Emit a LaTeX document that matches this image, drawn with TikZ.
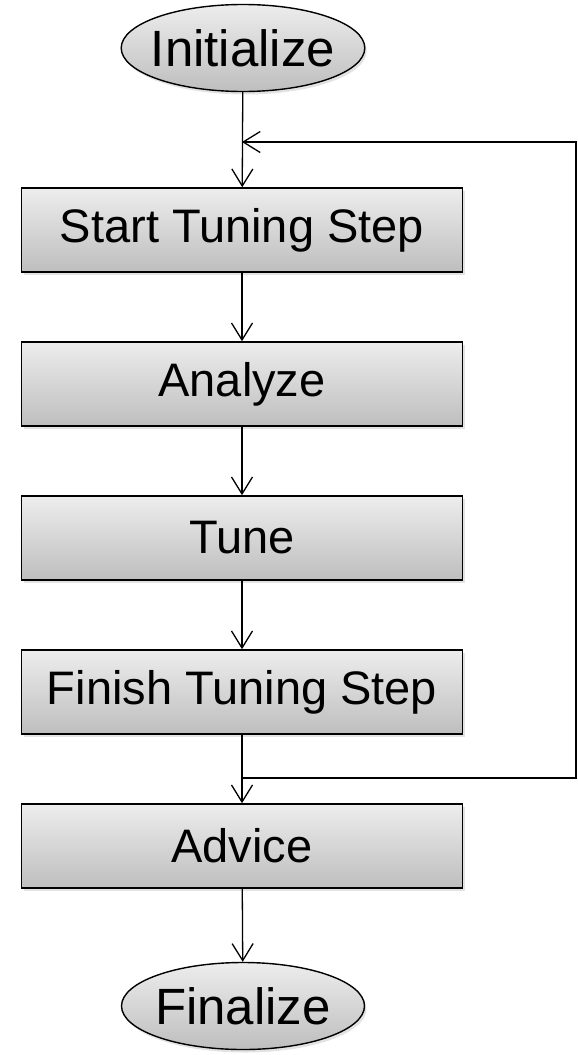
\documentclass[tikz,border=0pt]{standalone}
\usepackage{fontspec}
\setmainfont{Liberation Sans}
\usetikzlibrary{shapes.geometric,arrows.meta,shadows}
\definecolor{fillTop}{HTML}{EDEDED}
\definecolor{fillBot}{HTML}{BEBEBE}
\tikzset{
  procbox/.style={draw=black, line width=1.6pt, rectangle,
    top color=fillTop, bottom color=fillBot,
    minimum width=441pt, minimum height=84pt, inner sep=0pt,
    font=\fontsize{47pt}{52pt}\selectfont,
    drop shadow={opacity=0.22, shadow xshift=2pt, shadow yshift=-3pt}},
  terminal/.style={draw=black, line width=1.4pt, ellipse,
    top color=fillTop, bottom color=fillBot,
    minimum width=243pt, minimum height=87pt, inner xsep=-6pt, inner ysep=0pt,
    font=\fontsize{51pt}{56pt}\selectfont,
    drop shadow={opacity=0.22, shadow xshift=2pt, shadow yshift=-3pt}},
  arr/.style={line width=1.3pt, -{Straight Barb[length=17pt, width=21pt, line width=1.3pt]}},
  link/.style={line width=1.3pt}
}
\begin{document}
\begin{tikzpicture}[x=1pt, y=1pt]
  \useasboundingbox (0,0) rectangle (578,-1055);

  % start / end terminals
  \node[terminal] (init) at (243,-48) {Initialize};
  \node[terminal] (final) at (243,-1006) {Finalize};

  % tuning loop steps
  \node[procbox] (start)  at (242,-230) {Start Tuning Step};
  \node[procbox] (analyze) at (242,-384) {Analyze};
  \node[procbox] (tune)   at (242,-538) {Tune};
  \node[procbox] (finish) at (242,-692) {Finish Tuning Step};
  \node[procbox] (advice) at (242,-846) {Advice};

  % loop-back route points
  \coordinate (split) at (242,-778);
  \coordinate (rbot)  at (576,-778);
  \coordinate (rtop)  at (576,-142);
  \coordinate (join)  at (242,-142);

  % main flow
  \draw[arr] (init) -- (start);
  \draw[arr] (start) -- (analyze);
  \draw[arr] (analyze) -- (tune);
  \draw[arr] (tune) -- (finish);
  \draw[arr] (finish) -- (advice);
  \draw[arr] (advice) -- (final);

  % repeat the tuning step
  \draw[arr] (split) -- (rbot) -- (rtop) -- (join);
\end{tikzpicture}
\end{document}
